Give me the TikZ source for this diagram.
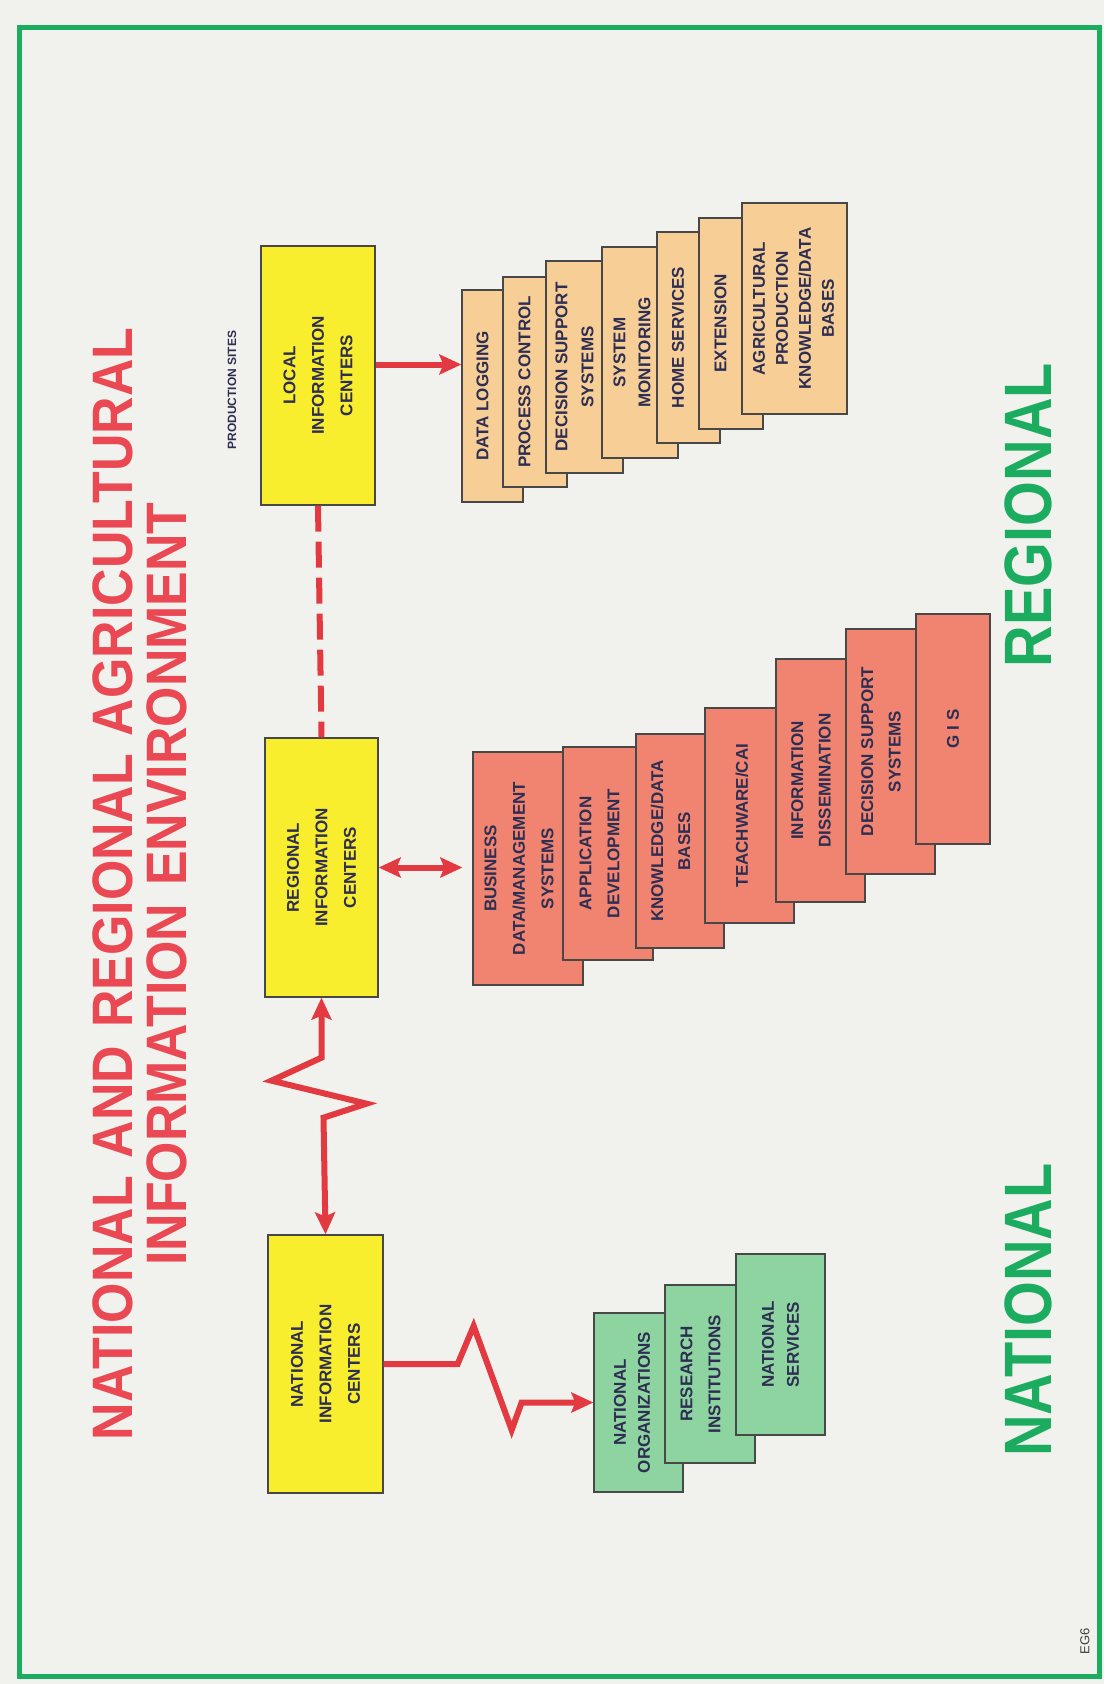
\documentclass[tikz,border=0pt]{standalone}
\usepackage{fontspec}
\setmainfont{Liberation Sans}
\newfontfamily\condfont[FakeStretch=0.86]{Liberation Sans}
\newfontfamily\titlefont[FakeStretch=0.91]{Liberation Sans}
\usetikzlibrary{arrows.meta}
\definecolor{paper}{RGB}{241,241,238}
\definecolor{framegreen}{RGB}{28,172,96}
\definecolor{titlered}{RGB}{234,72,82}
\definecolor{linkred}{RGB}{226,58,64}
\definecolor{hubyellow}{RGB}{248,238,46}
\definecolor{locpeach}{RGB}{246,206,150}
\definecolor{regsalmon}{RGB}{240,132,112}
\definecolor{natgreen}{RGB}{142,212,160}
\definecolor{boxline}{RGB}{72,72,72}
\definecolor{txtblue}{RGB}{46,46,82}
\newcommand\wsp{\hspace{18pt}}

\begin{document}
\begin{tikzpicture}[x=1pt, y=-1pt]
 \tikzset{
  box/.style={draw=boxline, line width=1.3pt, rotate=90, inner sep=0pt},
  hubbox/.style={box, fill=hubyellow, align=center, text=txtblue,
    font=\bfseries\fontsize{17}{28.5}\selectfont},
  locbox/.style={box, fill=locpeach},
  regbox/.style={box, fill=regsalmon},
  natbox/.style={box, fill=natgreen},
  boxtext/.style={rotate=90, align=center, text=txtblue,
    font=\bfseries\fontsize{17}{#1}\selectfont},
  boxtext/.default=26,
  link/.style={draw=linkred, line width=6pt},
  tip/.style={-{Stealth[length=22pt,width=20pt,inset=4pt]}},
  tips/.style={{Stealth[length=22pt,width=20pt,inset=4pt]}-{Stealth[length=22pt,width=20pt,inset=4pt]}},
  bigword/.style={rotate=90, text=framegreen, font=\condfont\bfseries\fontsize{67}{67}\selectfont}
 }
  \fill[paper] (0,0) rectangle (1104,1684);
  \useasboundingbox (0,0) rectangle (1104,1684);
  \draw[framegreen, line width=5pt] (19,27) rectangle (1099,1676);

  % title and side words
  \node[rotate=90, align=center, text=titlered, font=\titlefont\bfseries\fontsize{57}{54}\selectfont] (T) at (140,884)
    {NATIONAL\wsp AND\wsp REGIONAL\wsp AGRICULTURAL\\INFORMATION\wsp ENVIRONMENT};
  \node[bigword] (NAT) at (1028,1310) {NATIONAL};
  \node[bigword] (REG) at (1028,515) {REGIONAL};
  \node[rotate=90, text=txtblue, font=\bfseries\fontsize{12}{12}\selectfont] (PS) at (232,390) {PRODUCTION SITES};
  \node[rotate=90, text=darkgray, font=\fontsize{13}{13}\selectfont] (EG) at (1085,1641) {EG6};

  % information centers
  \node[hubbox, minimum width=259pt, minimum height=114pt] (LIC) at (318,375.5) {LOCAL\\INFORMATION\\CENTERS};
  \node[hubbox, minimum width=259pt, minimum height=113pt] (RIC) at (321.5,867.5) {REGIONAL\\INFORMATION\\CENTERS};
  \node[hubbox, minimum width=258pt, minimum height=115pt] (NIC) at (325.5,1364) {NATIONAL\\INFORMATION\\CENTERS};

  % local stack
  \node[locbox, minimum width=212pt, minimum height=61pt] (L1) at (492.5,396) {};
  \node[boxtext] (L1t) at (482.5,396) {DATA LOGGING};
  \node[locbox, minimum width=210pt, minimum height=64pt] (L2) at (535,382) {};
  \node[boxtext] (L2t) at (524.5,382) {PROCESS CONTROL};
  \node[locbox, minimum width=212pt, minimum height=77pt] (L3) at (584.5,367) {};
  \node[boxtext] (L3t) at (574.5,367) {DECISION SUPPORT\\SYSTEMS};
  \node[locbox, minimum width=211pt, minimum height=76pt] (L4) at (640,352.5) {};
  \node[boxtext=25] (L4t) at (632,352.5) {SYSTEM\\MONITORING};
  \node[locbox, minimum width=211pt, minimum height=63pt] (L5) at (688.5,337.5) {};
  \node[boxtext] (L5t) at (678,337.5) {HOME SERVICES};
  \node[locbox, minimum width=211pt, minimum height=64pt] (L6) at (731,323.5) {};
  \node[boxtext] (L6t) at (720.5,323.5) {EXTENSION};
  \node[locbox, minimum width=211pt, minimum height=105pt] (L7) at (794.5,308.5) {};
  \node[boxtext=23] (L7t) at (793.5,308.5) {AGRICULTURAL\\PRODUCTION\\KNOWLEDGE/DATA\\BASES};

  % regional stack
  \node[regbox, minimum width=233pt, minimum height=110pt] (R1) at (528,868.5) {};
  \node[boxtext=28.5] (R1t) at (519,868.5) {BUSINESS\\DATA/MANAGEMENT\\SYSTEMS};
  \node[regbox, minimum width=213pt, minimum height=90pt] (R2) at (608,853.5) {};
  \node[boxtext=28] (R2t) at (599.5,853.5) {APPLICATION\\DEVELOPMENT};
  \node[regbox, minimum width=214pt, minimum height=88pt] (R3) at (680,841) {};
  \node[boxtext=27] (R3t) at (670.5,841) {KNOWLEDGE/DATA\\BASES};
  \node[regbox, minimum width=215pt, minimum height=89pt] (R4) at (749.5,815.5) {};
  \node[boxtext] (R4t) at (742,815.5) {TEACHWARE/CAI};
  \node[regbox, minimum width=243pt, minimum height=89pt] (R5) at (820.5,780.5) {};
  \node[boxtext=27.5] (R5t) at (811,780.5) {INFORMATION\\DISSEMINATION};
  \node[regbox, minimum width=245pt, minimum height=89pt] (R6) at (890.5,751.5) {};
  \node[boxtext=27.5] (R6t) at (881,751.5) {DECISION SUPPORT\\SYSTEMS};
  \node[regbox, minimum width=230pt, minimum height=74pt] (R7) at (953,729) {};
  \node[boxtext] (R7t) at (953,729) {G I S};

  % national stack
  \node[natbox, minimum width=179pt, minimum height=89pt] (N1) at (638.5,1402.5) {};
  \node[boxtext=24] (N1t) at (632,1402.5) {NATIONAL\\ORGANIZATIONS};
  \node[natbox, minimum width=178pt, minimum height=90pt] (N2) at (710,1374) {};
  \node[boxtext=28] (N2t) at (700.5,1374) {RESEARCH\\INSTITUTIONS};
  \node[natbox, minimum width=181pt, minimum height=89pt] (N3) at (780.5,1344.5) {};
  \node[boxtext=25] (N3t) at (780.5,1344.5) {NATIONAL\\SERVICES};

  % links
  \coordinate (LICout) at ([yshift=11pt]LIC.south);
  \draw[link, tip] (LICout) -- (LICout -| L1.north);
  \draw[link, dash pattern=on 26pt off 10pt] (LIC.west) -- (RIC.east);
  \draw[link, tips, shorten >=10pt] (RIC.south) -- (RIC.south -| R1.north);
  \draw[link, tips] (RIC.west) -- ++(0,60) -- ++(-50,23) -- ++(95,23) -- ++(-43,14) -- (NIC.east);
  \draw[link, tip] (NIC.south) -- ++(74,0) -- ++(16,-38) -- ++(38,104) -- ++(10,-27.5) -- (N1.north);
\end{tikzpicture}
\end{document}
